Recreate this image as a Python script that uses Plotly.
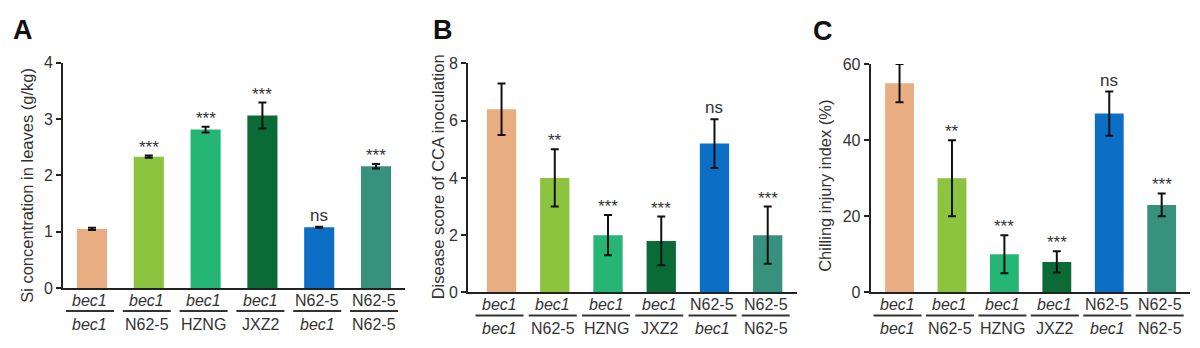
import plotly.graph_objects as go

# Genotype categories (numerator over denominator) and bar colours
top_labels = ["bec1", "bec1", "bec1", "bec1", "N62-5", "N62-5"]
bottom_labels = ["bec1", "N62-5", "HZNG", "JXZ2", "bec1", "N62-5"]
italic_names = {"bec1"}
bar_colors = ["#E9AD82", "#8CC43F", "#25B574", "#0B6B37", "#0D6EC5", "#37917D"]

# Panel A: Si concentration in leaves (g/kg)
si_mean = [1.05, 2.33, 2.81, 3.06, 1.08, 2.16]
si_err = [0.02, 0.02, 0.05, 0.23, 0.01, 0.04]
si_sig = ["", "***", "***", "***", "ns", "***"]

# Panel B: disease score of CCA inoculation
cca_mean = [6.4, 4.0, 2.0, 1.8, 5.2, 2.0]
cca_err = [0.9, 1.0, 0.7, 0.85, 0.85, 1.0]
cca_sig = ["", "**", "***", "***", "ns", "***"]

# Panel C: chilling injury index (%)
chill_mean = [55, 30, 10, 8, 47, 23]
chill_err = [5, 10, 5, 2.8, 5.8, 3]
chill_sig = ["", "**", "***", "***", "ns", "***"]

FONT = "Liberation Sans, Arial, sans-serif"
TEXT = "#333333"
W, H = 1200, 348

panels = [
    dict(mean=si_mean, err=si_err, sig=si_sig, letter="A",
         title="Si concentration in leaves (g/kg)",
         xdom=[63, 405], ydom=[294.5, 57.3], xrange=[-0.51, 5.51],
         yrange=[0, 4], dtick=1, width=0.53,
         letter_xy=(23, 23), title_xy=(27, 187)),
    dict(mean=cca_mean, err=cca_err, sig=cca_sig, letter="B",
         title="Disease score of CCA inoculation",
         xdom=[468, 797], ydom=[299, 58.3], xrange=[-0.63, 5.55],
         yrange=[0, 8], dtick=2, width=0.55,
         letter_xy=(443, 23), title_xy=(438, 178)),
    dict(mean=chill_mean, err=chill_err, sig=chill_sig, letter="C",
         title="Chilling injury index (%)",
         xdom=[870.7, 1190], ydom=[299, 59], xrange=[-0.55, 5.54],
         yrange=[0, 60], dtick=20, width=0.55,
         letter_xy=(823, 24), title_xy=(825, 187)),
]


def fmt(name):
    return f"<i>{name}</i>" if name in italic_names else name


def cat_to_paper(i, p):
    """Map a category index onto the horizontal paper fraction of its panel."""
    d0, d1 = p["xdom"][0] / W, p["xdom"][1] / W
    r0, r1 = p["xrange"]
    return d0 + (i - r0) / (r1 - r0) * (d1 - d0)


fig = go.Figure()
annotations = []
shapes = []
cats = list(range(len(top_labels)))

for k, p in enumerate(panels, start=1):
    xa = "x" if k == 1 else f"x{k}"
    ya = "y" if k == 1 else f"y{k}"
    fig.add_trace(go.Bar(
        x=cats, y=p["mean"], width=p["width"],
        marker=dict(color=bar_colors, line=dict(width=0)),
        error_y=dict(type="data", array=p["err"], visible=True,
                     color="#111111", thickness=2, width=4),
        xaxis=xa, yaxis=ya, showlegend=False, hoverinfo="skip",
    ))

    layout_x = dict(
        domain=[p["xdom"][0] / W, p["xdom"][1] / W], range=p["xrange"],
        showticklabels=False, ticks="", showgrid=False, zeroline=False,
        showline=True, linecolor="#222222", linewidth=2, anchor=ya,
        fixedrange=True,
    )
    layout_y = dict(
        domain=[1 - p["ydom"][0] / H, 1 - p["ydom"][1] / H],
        range=p["yrange"], dtick=p["dtick"], tick0=0,
        ticks="outside", ticklen=5, tickwidth=2, tickcolor="#222222",
        showgrid=False, zeroline=False, showline=True,
        linecolor="#222222", linewidth=2, anchor=xa,
        tickfont=dict(family=FONT, size=16, color=TEXT), fixedrange=True,
    )
    fig.update_layout({
        ("xaxis" if k == 1 else f"xaxis{k}"): layout_x,
        ("yaxis" if k == 1 else f"yaxis{k}"): layout_y,
    })

    # significance marks above the error bars
    for i, (m, e, s) in enumerate(zip(p["mean"], p["err"], p["sig"])):
        if s:
            annotations.append(dict(
                x=i, y=m + e, xref=xa, yref=ya, text=s, showarrow=False,
                yanchor="bottom", yshift=-3 if s.startswith("*") else 0,
                font=dict(family=FONT, size=17, color=TEXT),
            ))

    # genotype labels written as fractions under each bar
    base = 1 - p["ydom"][0] / H
    for i, (tl, bl) in enumerate(zip(top_labels, bottom_labels)):
        annotations.append(dict(
            x=i, y=0, xref=xa, yref=ya, text=fmt(tl), showarrow=False,
            yanchor="middle", yshift=-12, xshift=-2,
            font=dict(family=FONT, size=16, color=TEXT),
        ))
        annotations.append(dict(
            x=i, y=0, xref=xa, yref=ya, text=fmt(bl), showarrow=False,
            yanchor="middle", yshift=-36, xshift=-2,
            font=dict(family=FONT, size=16, color=TEXT),
        ))
        shapes.append(dict(
            type="line", xref="paper", yref="paper",
            xsizemode="pixel", xanchor=cat_to_paper(i, p), x0=-26, x1=22,
            ysizemode="pixel", yanchor=base, y0=-23, y1=-23,
            line=dict(color="#333333", width=2),
        ))

    # y-axis title
    tx, ty = p["title_xy"]
    annotations.append(dict(
        x=tx / W, y=1 - ty / H, xref="paper", yref="paper",
        text=p["title"], textangle=-90, showarrow=False,
        xanchor="center", yanchor="middle",
        font=dict(family=FONT, size=16.5, color=TEXT),
    ))

    # panel letter
    lx, ly = p["letter_xy"]
    annotations.append(dict(
        x=lx / W, y=1 - ly / H, xref="paper", yref="paper",
        text=f"<b>{p['letter']}</b>", showarrow=False,
        xanchor="center", yanchor="middle",
        font=dict(family=FONT, size=27, color="#111111"),
    ))

fig.update_layout(
    width=W, height=H, margin=dict(l=0, r=0, t=0, b=0),
    paper_bgcolor="white", plot_bgcolor="white",
    annotations=annotations, shapes=shapes, bargap=0.45,
)

fig.write_html("out.html", config={"displayModeBar": False})
